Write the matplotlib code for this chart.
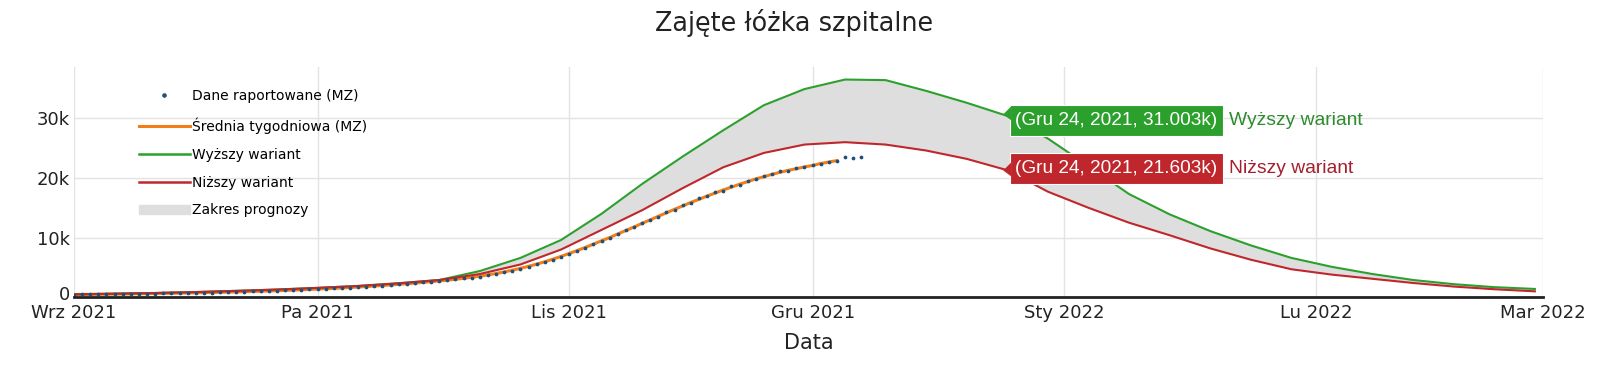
"""
Zajęte łóżka szpitalne - reported data vs. forecast variants
"""

import matplotlib
matplotlib.use("Agg")
import matplotlib.pyplot as plt
import matplotlib.dates as mdates
import pandas as pd
from matplotlib.lines import Line2D
from matplotlib.patches import Patch, Polygon, Rectangle
from matplotlib.transforms import IdentityTransform, ScaledTranslation

# daily reported occupied beds (MZ), in thousands, starting 2021-08-29
reported_start = "2021-08-29"
reported = [
    0.42, 0.44, 0.45, 0.44, 0.47, 0.50, 0.49, 0.50, 0.53, 0.55, 0.56, 0.59, 0.60,
    0.63, 0.65, 0.68, 0.70, 0.72, 0.75, 0.78, 0.80, 0.84, 0.87,
    0.91, 0.94, 0.99, 1.02, 1.06, 1.10, 1.14, 1.19, 1.25, 1.31,
    1.37, 1.44, 1.50, 1.56, 1.64, 1.71, 1.79, 1.88, 1.97, 2.06,
    2.16, 2.27, 2.38, 2.49, 2.61, 2.73, 2.86, 3.00, 3.16, 3.31,
    3.48, 3.71, 3.96, 4.22, 4.48, 4.80, 5.12, 5.50, 5.92, 6.33,
    6.78, 7.28, 7.84, 8.33, 8.92, 9.42, 9.98, 10.6, 11.2, 11.7,
    12.5, 13.0, 13.5, 14.3, 14.7, 15.4, 15.8, 16.6, 16.9, 17.6,
    17.9, 18.6, 18.9, 19.5, 19.8, 20.4, 20.6, 21.1, 21.2, 21.7,
    21.8, 22.2, 22.3, 22.7, 22.8, 23.5, 23.4, 23.5,
]

# forecast variants every 5 days from 2021-09-01, in thousands
forecast_start = "2021-09-01"
forecast_step = "5D"
upper = [
    0.50, 0.60, 0.72, 0.88, 1.08, 1.30, 1.58, 1.90, 2.35, 2.90,
    4.40, 6.60, 9.60, 14.0, 19.0, 23.6, 28.0, 32.2, 34.9, 36.5,
    36.4, 34.6, 32.6, 30.4, 26.6, 22.0, 17.3, 13.9, 11.1, 8.70,
    6.60, 5.10, 3.90, 2.90, 2.20, 1.70, 1.40,
]
lower = [
    0.50, 0.60, 0.72, 0.88, 1.08, 1.30, 1.58, 1.90, 2.35, 2.90,
    3.90, 5.50, 8.00, 11.3, 14.6, 18.3, 21.8, 24.2, 25.6, 26.0,
    25.6, 24.6, 23.2, 21.3, 17.7, 15.0, 12.5, 10.4, 8.20, 6.30,
    4.70, 3.80, 3.10, 2.40, 1.80, 1.35, 1.00,
]

month_ticks = ["2021-09-01", "2021-10-01", "2021-11-01", "2021-12-01",
               "2022-01-01", "2022-02-01", "2022-03-01"]
month_labels = ["Wrz 2021", "Pa 2021", "Lis 2021", "Gru 2021",
                "Sty 2022", "Lu 2022", "Mar 2022"]
y_ticks = [0, 10, 20, 30]
y_labels = ["0", "10k", "20k", "30k"]

hover_date = "2021-12-24"
hover_upper = 31.003
hover_lower = 21.603

GREEN = "#2ca02c"
RED = "#c0272d"
ORANGE = "#f07f1a"
DOTS = "#1f4f7b"
FILL = "#dedede"


def main():
    rep_dates = pd.date_range(reported_start, periods=len(reported), freq="D")
    rep = pd.Series(reported, index=rep_dates)
    weekly = rep.rolling(7, center=True).mean()
    fc_dates = pd.date_range(forecast_start, periods=len(upper), freq=forecast_step)

    fig = plt.figure(figsize=(16.13, 3.86), dpi=100)
    ax = fig.add_axes([0.0459, 0.2298, 0.9107, 0.5966])

    ax.fill_between(fc_dates, lower, upper, color=FILL, lw=0, zorder=1)
    ax.plot(weekly.index, weekly.values, color=ORANGE, lw=2.2, zorder=2)
    ax.plot(fc_dates, upper, color=GREEN, lw=1.5, zorder=3)
    ax.plot(fc_dates, lower, color=RED, lw=1.5, zorder=4)
    ax.plot(rep.index, rep.values, ls="none", marker="o", ms=1.7,
            color=DOTS, zorder=5)

    ax.set_xlim(pd.Timestamp(month_ticks[0]), pd.Timestamp(month_ticks[-1]))
    ax.set_ylim(0, 38.6)
    ax.set_xticks(pd.to_datetime(month_ticks))
    ax.set_xticklabels(month_labels)
    ax.set_yticks(y_ticks)
    ax.set_yticklabels(y_labels)
    ax.tick_params(length=0, labelsize=13, colors="#222222", pad=5)
    ax.tick_params(axis="y", pad=3)
    # lift the "0" a little so it clears "Wrz 2021"
    zero = ax.get_yticklabels()[0]
    zero.set_transform(zero.get_transform()
                       + ScaledTranslation(0, 3 / 72, fig.dpi_scale_trans))
    ax.grid(True, color="#e3e3e3", lw=1)
    ax.set_axisbelow(True)
    for side in ["top", "right", "left"]:
        ax.spines[side].set_visible(False)
    ax.spines["bottom"].set_color("#222222")
    ax.spines["bottom"].set_linewidth(2)
    ax.spines["bottom"].set_zorder(6)

    ax.set_xlabel("Data", fontsize=15, color="#222222", labelpad=8)
    fig.text(0.492, 0.9415, "Zajęte łóżka szpitalne", fontsize=18.4,
             color="#222222", ha="center", va="center")

    handles = [
        Line2D([], [], ls="none", marker="o", ms=2.3, color=DOTS),
        Line2D([], [], color=ORANGE, lw=2.2),
        Line2D([], [], color=GREEN, lw=1.8),
        Line2D([], [], color=RED, lw=1.8),
        Patch(color=FILL),
    ]
    names = ["Dane raportowane (MZ)", "Średnia tygodniowa (MZ)",
             "Wyższy wariant", "Niższy wariant", "Zakres prognozy"]
    ax.legend(handles, names, loc="upper left", bbox_to_anchor=(0.044, 0.903),
              frameon=False, fontsize=10, handlelength=3.7, handletextpad=0.12,
              labelspacing=1.0, borderpad=0, borderaxespad=0)

    # hover labels drawn in pixel space
    hx = pd.Timestamp(hover_date)
    boxes = [(hover_upper, GREEN, "Wyższy wariant", 8, "#2e8b2e"),
             (hover_lower, RED, "Niższy wariant", 0, "#a51f2c")]
    for val, col, name, shift, tcol in boxes:
        px, py = ax.transData.transform((mdates.date2num(hx), val))
        box_left = px + 11
        h = 31
        cy = py - shift
        fig.add_artist(Rectangle((box_left, cy - h / 2), 213, h, facecolor=col,
                                 edgecolor="white", lw=0.8,
                                 transform=IdentityTransform(), zorder=10))
        fig.add_artist(Polygon([(px + 4, py - 2), (box_left + 1, py + 6),
                                (box_left + 1, py - 8)], closed=True,
                               facecolor=col, edgecolor="none",
                               transform=IdentityTransform(), zorder=10))
        fig.text(box_left + 106, cy, f"({hx.strftime('Gru %d, %Y')}, {val:.3f}k)",
                 transform=IdentityTransform(), ha="center", va="center",
                 fontsize=13.7, color="white", family="Liberation Sans",
                 zorder=11)
        fig.text(box_left + 219, cy, name, transform=IdentityTransform(),
                 ha="left", va="center", fontsize=13.9, color=tcol,
                 family="Liberation Sans", zorder=11)

    fig.savefig("out.png", dpi=100)
    plt.close(fig)


if __name__ == "__main__":
    main()
